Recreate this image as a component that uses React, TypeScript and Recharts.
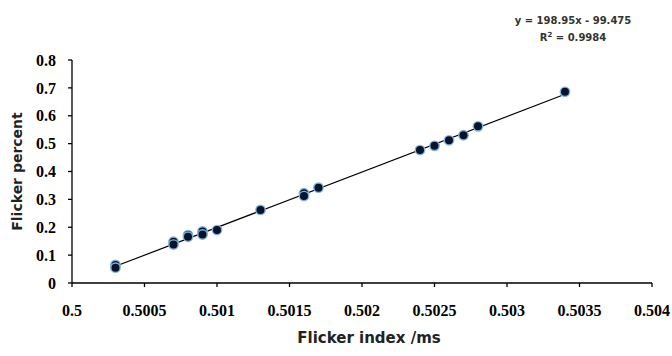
import { ScatterChart, Scatter, XAxis, YAxis } from "recharts";

// flicker index (ms) vs flicker percent
const flickerIndex = [
  0.5003, 0.5003, 0.5007, 0.5007, 0.5008, 0.5008, 0.5009, 0.5009, 0.501,
  0.5013, 0.5016, 0.5016, 0.5017, 0.5024, 0.5025, 0.5026, 0.5027, 0.5028, 0.5034,
];
const flickerPercent = [
  0.065, 0.055, 0.148, 0.138, 0.172, 0.166, 0.185, 0.174, 0.19,
  0.262, 0.322, 0.312, 0.342, 0.477, 0.492, 0.512, 0.53, 0.562, 0.686,
];

// linear trendline ends, as drawn
const trendX = [0.5003, 0.5034];
const trendY = [0.06, 0.677];

const xTicks = [0.5, 0.5005, 0.501, 0.5015, 0.502, 0.5025, 0.503, 0.5035, 0.504];
const yTicks = [0, 0.1, 0.2, 0.3, 0.4, 0.5, 0.6, 0.7, 0.8];

const equation = "y = 198.95x - 99.475";
const rSquared = "0.9984";

const points = flickerIndex.map((x, i) => ({ x, y: flickerPercent[i] }));
const trend = trendX.map((x, i) => ({ x, y: trendY[i] }));

const tickStyle = {
  fill: "#000",
  fontFamily: "'Liberation Serif', 'DejaVu Serif', serif",
  fontWeight: 700,
  fontSize: 16,
};

const Dot = (props: any) => {
  const { cx, cy } = props;
  if (cx == null || cy == null) return null;
  return (
    <g>
      <circle cx={cx} cy={cy} r={5.4} fill="#7fb2de" />
      <circle cx={cx} cy={cy} r={4} fill="#08132a" />
    </g>
  );
};

export default function App() {
  return (
    <div style={{ position: "fixed", left: 0, top: 0, width: 672, height: 356, background: "#fff" }}>
      <ScatterChart width={672} height={356} margin={{ top: 60, right: 20, left: 0, bottom: 0 }}>
        <XAxis
          type="number"
          dataKey="x"
          domain={[0.5, 0.504]}
          ticks={xTicks}
          interval={0}
          allowDataOverflow
          height={73}
          stroke="#000"
          strokeWidth={1.3}
          tickSize={4}
          tickMargin={18}
          tick={tickStyle}
          label={{
            value: "Flicker index /ms",
            position: "insideBottom",
            offset: 13,
            dx: 7,
            style: { fill: "#222", fontFamily: "'DejaVu Sans', sans-serif", fontWeight: 700, fontSize: 15 },
          }}
        />
        <YAxis
          type="number"
          dataKey="y"
          domain={[0, 0.8]}
          ticks={yTicks}
          interval={0}
          width={72}
          stroke="#000"
          strokeWidth={1.3}
          tickSize={4}
          tickMargin={12}
          tick={tickStyle}
          label={{
            value: "Flicker percent",
            angle: -90,
            position: "insideLeft",
            offset: 17,
            style: { textAnchor: "middle", fill: "#222", fontFamily: "'DejaVu Sans', sans-serif", fontWeight: 700, fontSize: 14 },
          }}
        />
        <Scatter
          data={trend}
          line={{ stroke: "#000", strokeWidth: 1.2 }}
          shape={() => null}
          isAnimationActive={false}
        />
        <Scatter data={points} shape={Dot} isAnimationActive={false} />
      </ScatterChart>
      <div
        style={{
          position: "absolute",
          left: 500,
          top: 12,
          width: 146,
          textAlign: "center",
          fontFamily: "'DejaVu Sans', sans-serif",
          fontWeight: 700,
          fontSize: 10,
          lineHeight: "17px",
          color: "#333",
        }}
      >
        <div>{equation}</div>
        <div>
          R<sup style={{ fontSize: 7, lineHeight: 0 }}>2</sup> = {rSquared}
        </div>
      </div>
    </div>
  );
}
